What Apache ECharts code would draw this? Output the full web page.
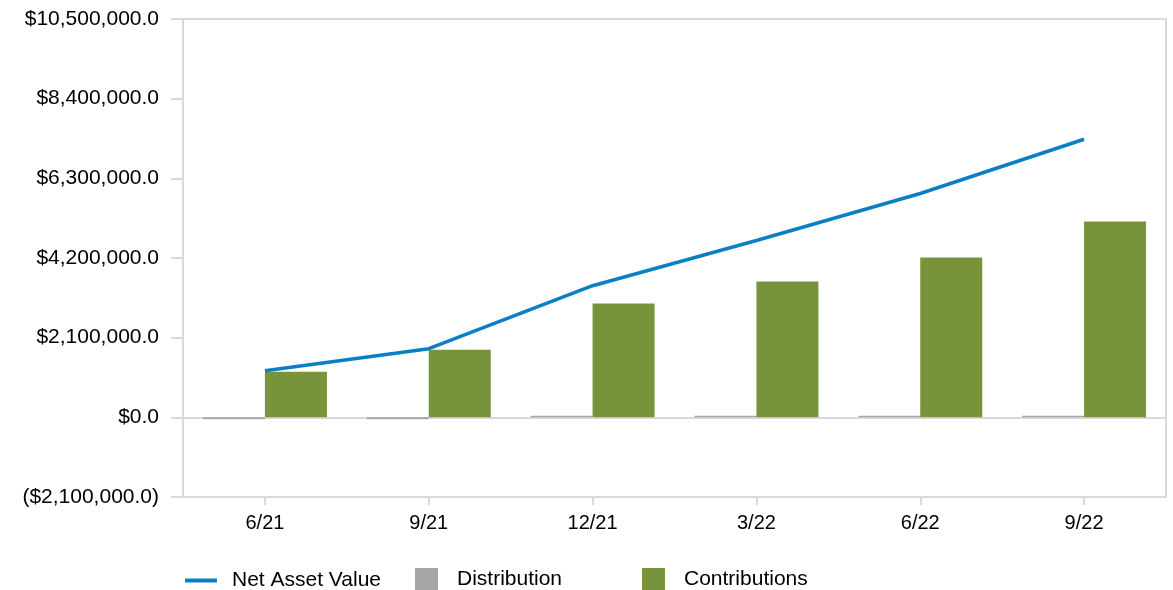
<!DOCTYPE html>
<html><head><meta charset="utf-8">
<script src="https://cdn.jsdelivr.net/npm/echarts@6/dist/echarts.min.js"></script>
<style>html,body{margin:0;padding:0;background:#fff}#c{width:1173px;height:590px}</style>
</head><body><div id="c"></div>
<script>
const categories = ['6/21','9/21','12/21','3/22','6/22','9/22'];
const netAssetValue = [1230000, 1810000, 3470000, 4660000, 5900000, 7330000];
const distribution = [-50000, -50000, 40000, 40000, 40000, 40000];
const contributions = [1200000, 1780000, 3000000, 3580000, 4210000, 5160000];
const yMin = -2100000, yMax = 10500000, yStep = 2100000;

const FONT = '"Liberation Sans", Arial, sans-serif';
function fmt(v){
  const s = Math.abs(v).toLocaleString('en-US',{minimumFractionDigits:1,maximumFractionDigits:1});
  return v < 0 ? '($' + s + ')' : '$' + s;
}
const chart = echarts.init(document.getElementById('c'), null, {renderer:'canvas'});
const legendText = {fontFamily: FONT, fontSize: 21, color: '#000'};
chart.setOption({
  animation: false,
  grid: {left: 183, right: 7, top: 19, bottom: 93, show: true, borderColor: '#d9d9d9', borderWidth: 2, backgroundColor: 'transparent'},
  legend: [
    {left: 185, top: 570, padding: 0, itemWidth: 32, itemHeight: 4, icon: 'rect', itemGap: 0,
     textStyle: Object.assign({padding:[0,0,0,10]}, legendText), data: ['Net Asset Value']},
    {left: 415, top: 568, padding: 0, itemWidth: 23, itemHeight: 23, icon: 'rect',
     textStyle: Object.assign({padding:[0,0,0,14]}, legendText), data: ['Distribution']},
    {left: 642, top: 568, padding: 0, itemWidth: 23, itemHeight: 23, icon: 'rect',
     textStyle: Object.assign({padding:[0,0,0,14]}, legendText), data: ['Contributions']}
  ],
  xAxis: {
    type: 'category', data: categories,
    axisLine: {onZero: false, lineStyle: {color: '#d9d9d9', width: 2}},
    axisTick: {show: true, alignWithLabel: true, length: 8, lineStyle: {color: '#d9d9d9', width: 2}},
    axisLabel: {fontFamily: FONT, fontSize: 20, color: '#000', margin: 16}
  },
  yAxis: {
    type: 'value', min: yMin, max: yMax, interval: yStep,
    axisLine: {show: true, lineStyle: {color: '#d9d9d9', width: 2}},
    axisTick: {show: true, length: 12, lineStyle: {color: '#d9d9d9', width: 2}},
    splitLine: {show: false},
    axisLabel: {fontFamily: FONT, fontSize: 21, color: '#000', margin: 24, formatter: fmt}
  },
  series: [
    {name: 'Distribution', type: 'bar', data: distribution, barWidth: 62, barGap: '0%',
     itemStyle: {color: '#a6a6a6'}, z: 3,
     markLine: {silent: true, symbol: 'none', label: {show: false}, z: 1,
       lineStyle: {color: '#d9d9d9', width: 2, type: 'solid'}, data: [{yAxis: 0}]}},
    {name: 'Contributions', type: 'bar', data: contributions, barWidth: 62, barGap: '0%',
     itemStyle: {color: '#77933c'}, z: 3},
    {name: 'Net Asset Value', type: 'line', data: netAssetValue, symbol: 'none',
     lineStyle: {color: '#0a80c4', width: 3.5}, itemStyle: {color: '#0a80c4'}, z: 5}
  ]
});
</script></body></html>
